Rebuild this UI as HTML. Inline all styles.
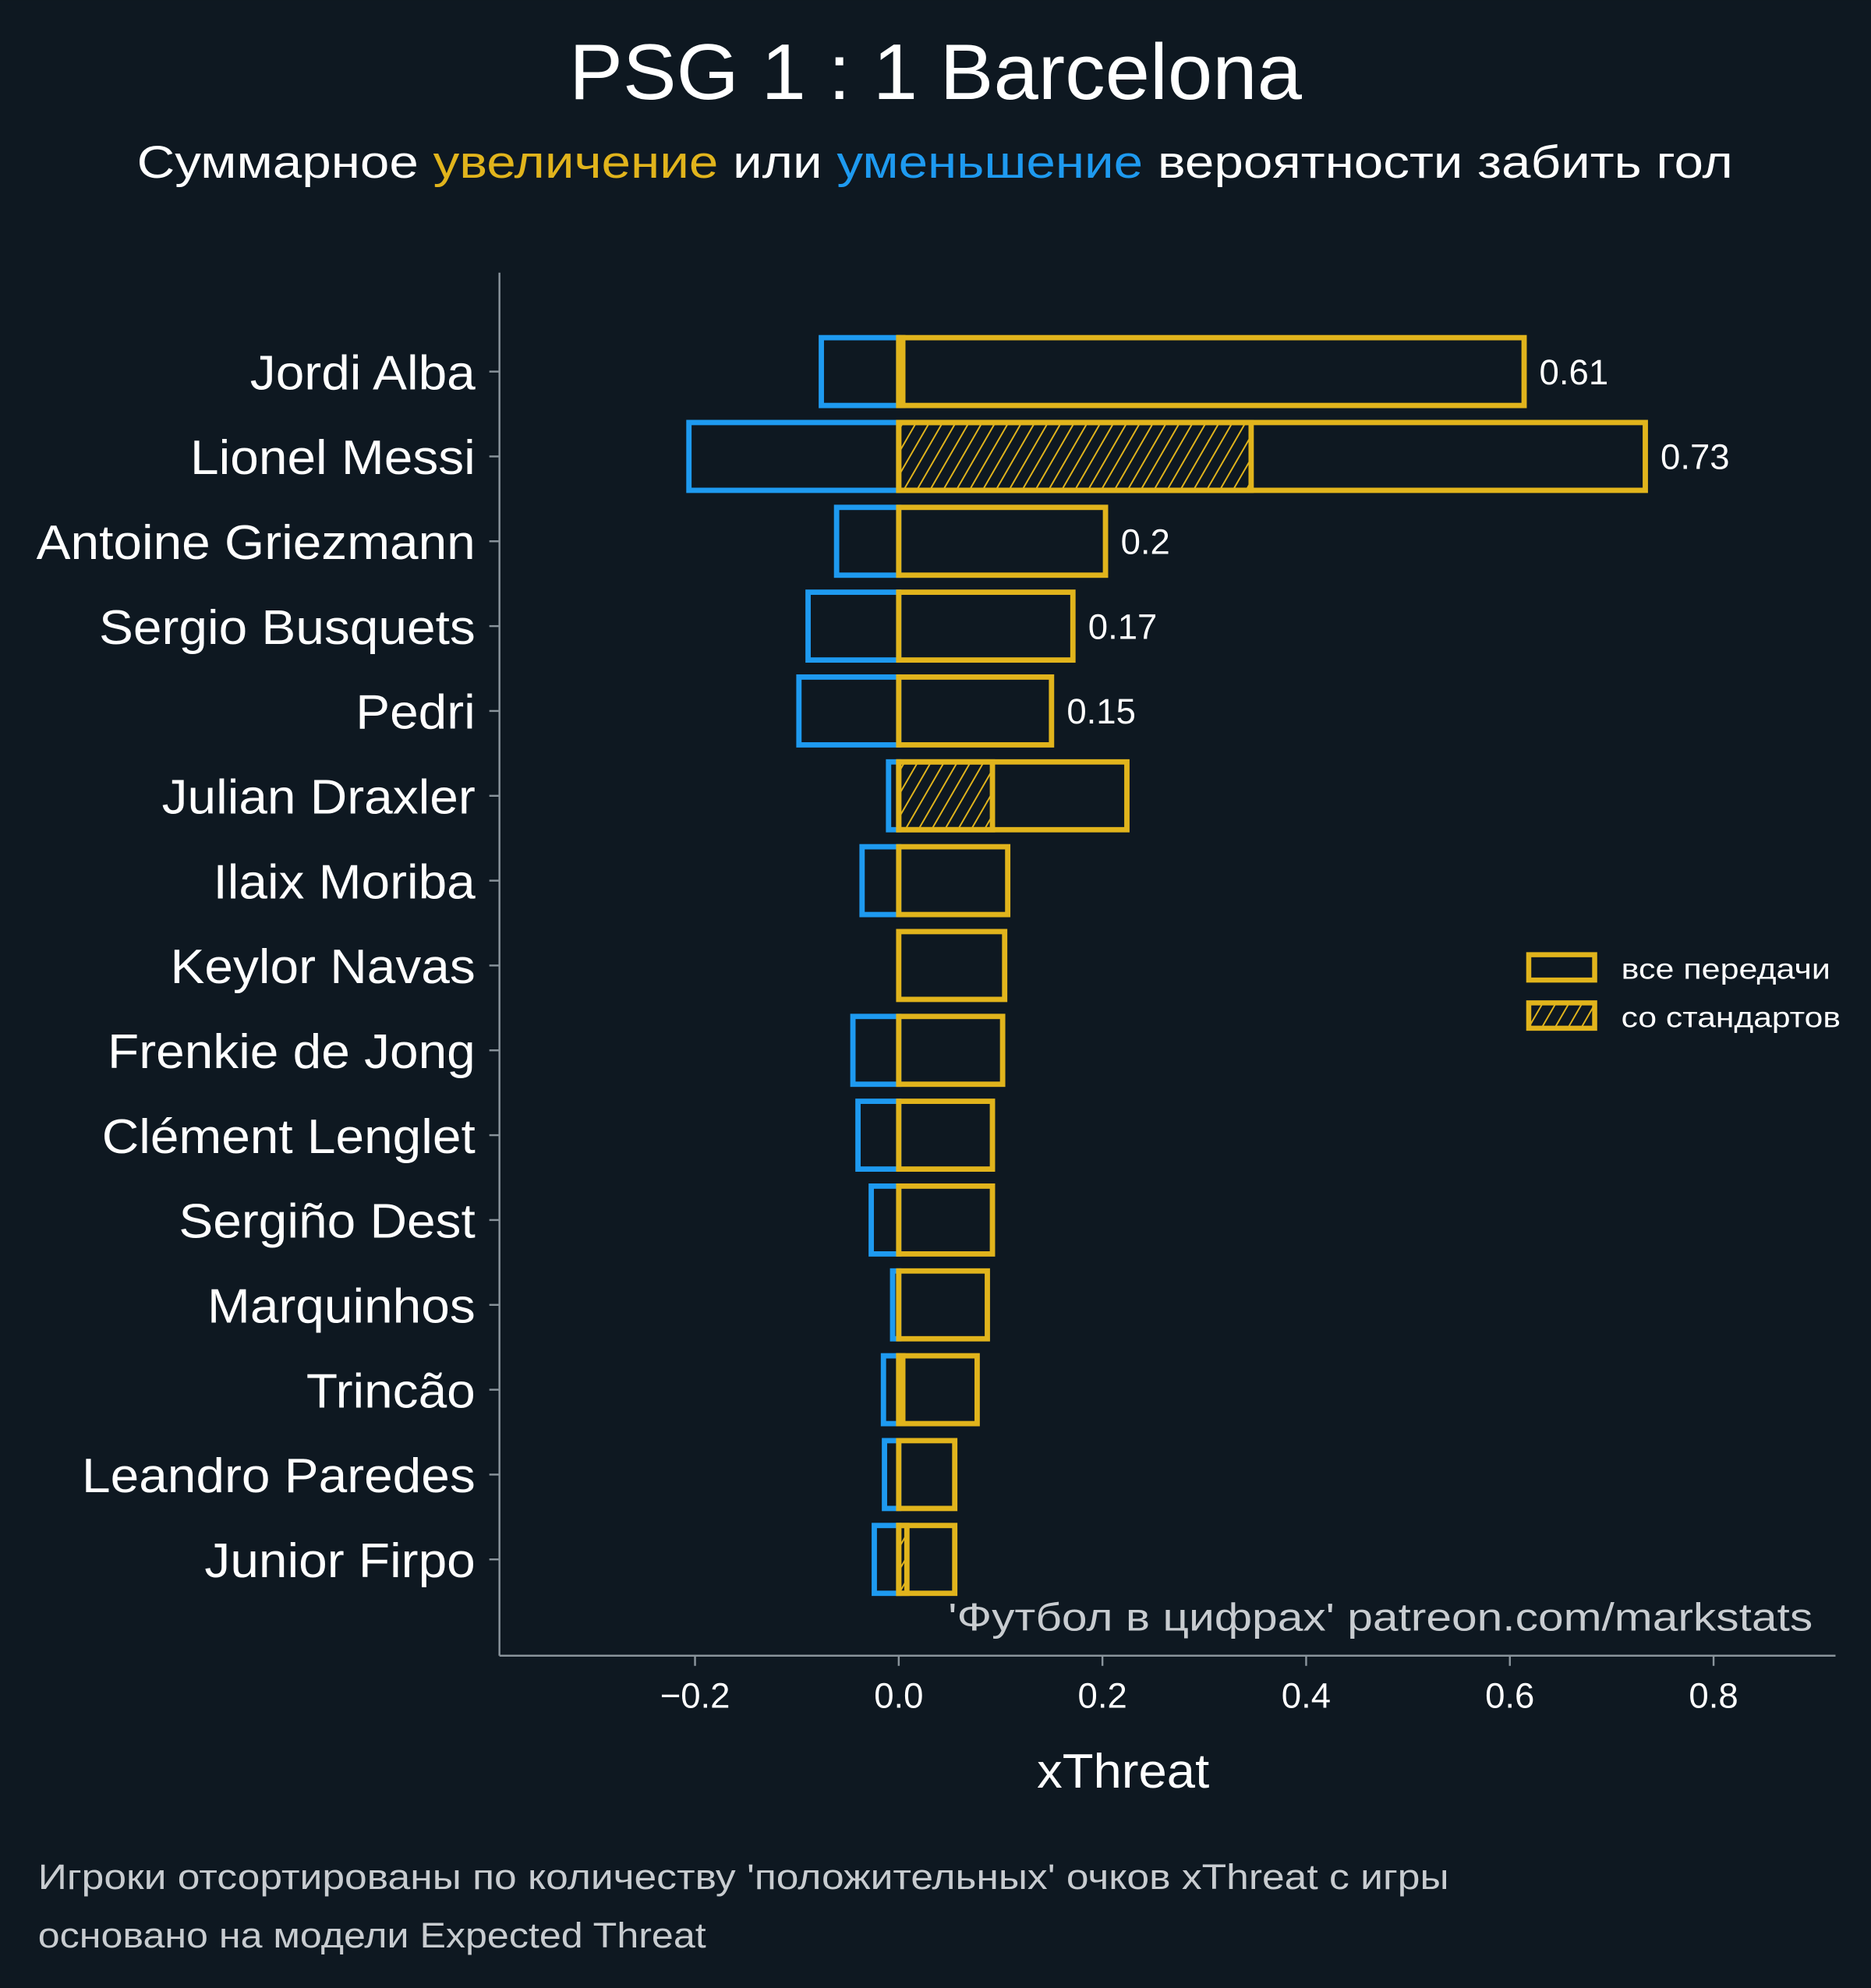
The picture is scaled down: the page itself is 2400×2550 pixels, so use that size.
<!DOCTYPE html>
<html><head><meta charset="utf-8"><style>
html,body{margin:0;padding:0;background:#0e1821;}
svg{display:block;font-family:"Liberation Sans","DejaVu Sans",sans-serif;}
</style></head><body>
<svg id="chart" width="2400" height="2550" viewBox="0 0 1476 1568" xmlns="http://www.w3.org/2000/svg">
<defs>
<pattern id="hatch" patternUnits="userSpaceOnUse" width="9" height="9" patternTransform="rotate(30)">
<rect width="9" height="9" fill="#0e1821"/>
<line x1="0" y1="0" x2="0" y2="9" stroke="#e1b41c" stroke-width="2.4"/>
</pattern>
</defs>
<rect width="1476" height="1568" fill="#0e1821"/>
<text x="449" y="78" textLength="578" lengthAdjust="spacingAndGlyphs" font-size="62" fill="#ffffff">PSG 1 : 1 Barcelona</text>
<text x="108" y="140" textLength="1259" lengthAdjust="spacingAndGlyphs" font-size="36" fill="#ffffff">Суммарное <tspan fill="#e1b41c">увеличение</tspan> или <tspan fill="#1e9af0">уменьшение</tspan> вероятности забить гол</text>
<g id="plot"></g>
<line x1="394" y1="215" x2="394" y2="1306" stroke="#8a949c" stroke-width="1.5"/>
<line x1="394" y1="1306" x2="1448" y2="1306" stroke="#8a949c" stroke-width="1.5"/>
<text x="748" y="1286" textLength="682" lengthAdjust="spacingAndGlyphs" font-size="31" fill="#c8ccd0">'Футбол в цифрах' patreon.com/markstats</text>
<text x="818" y="1410" textLength="136" lengthAdjust="spacingAndGlyphs" font-size="38" fill="#ffffff">xThreat</text>
<g>
<rect x="1206" y="753" width="52" height="20" fill="none" stroke="#e1b41c" stroke-width="4"/>
<text x="1279" y="772" textLength="165" lengthAdjust="spacingAndGlyphs" font-size="23" fill="#ffffff">все передачи</text>
<rect x="1206" y="791" width="52" height="20" fill="url(#hatch)" stroke="#e1b41c" stroke-width="4"/>
<text x="1279" y="810" textLength="173" lengthAdjust="spacingAndGlyphs" font-size="23" fill="#ffffff">со стандартов</text>
</g>
<text x="30" y="1490" textLength="1113" lengthAdjust="spacingAndGlyphs" font-size="28" fill="#c8ccd0">Игроки отсортированы по количеству 'положительных' очков xThreat с игры</text>
<text x="30" y="1536" textLength="527" lengthAdjust="spacingAndGlyphs" font-size="28" fill="#c8ccd0">основано на модели Expected Threat</text>
</svg>
<script>
const players = ["Jordi Alba","Lionel Messi","Antoine Griezmann","Sergio Busquets","Pedri","Julian Draxler","Ilaix Moriba","Keylor Navas","Frenkie de Jong","Clément Lenglet","Sergiño Dest","Marquinhos","Trincão","Leandro Paredes","Junior Firpo"];
const positive = [0.614,0.733,0.203,0.171,0.150,0.224,0.107,0.104,0.102,0.092,0.092,0.087,0.077,0.055,0.055];
const negative = [-0.076,-0.206,-0.061,-0.089,-0.098,-0.010,-0.036,0,-0.045,-0.040,-0.027,-0.006,-0.015,-0.014,-0.024];
const setPiece = [0.004,0.346,0,0,0,0.092,0,0,0,0,0,0,0.004,0,0.008];
const valueLabels = ["0.61","0.73","0.2","0.17","0.15","","","","","","","","","",""];
const xTicks = [-0.2,0,0.2,0.4,0.6,0.8];
const xTickLabels = ["\u22120.2","0.0","0.2","0.4","0.6","0.8"];

const NS="http://www.w3.org/2000/svg";
const g=document.getElementById('plot');
function xs(v){return 709+v*803.5;}
function ys(i){return 293+i*66.93;}
const bh=53.5;
const sw=4.2;
function mk(tag,attrs){const e=document.createElementNS(NS,tag);for(const k in attrs)e.setAttribute(k,attrs[k]);g.appendChild(e);return e;}
players.forEach((p,i)=>{
  const yc=ys(i);
  if(negative[i]<0){
    const r=mk('rect',{x:xs(negative[i]),y:yc-bh/2,width:xs(0)-xs(negative[i]),height:bh,fill:'none',stroke:'#1e9af0','stroke-width':sw});
    
    
  }
  if(setPiece[i]>0){
    const h=mk('rect',{x:xs(0),y:yc-bh/2,width:xs(setPiece[i])-xs(0),height:bh,fill:'url(#hatch)',stroke:'#e1b41c','stroke-width':sw});
    
    
  }
  const r2=mk('rect',{x:xs(0),y:yc-bh/2,width:xs(positive[i])-xs(0),height:bh,fill:'none',stroke:'#e1b41c','stroke-width':sw});
  
  
  if(valueLabels[i]){
    const t=mk('text',{x:xs(positive[i])+12,y:yc+10,'font-size':28,fill:'#ffffff'});
    t.textContent=valueLabels[i];
    
    
  }
  const tk=mk('line',{x1:386,y1:yc,x2:394,y2:yc,stroke:'#8a949c','stroke-width':1.5});
  
  
  const lb=mk('text',{x:375,y:yc+14,'text-anchor':'end','font-size':38,fill:'#ffffff'});
  lb.textContent=p;
  
  
  const w=lb.getComputedTextLength();
  if(w>0){lb.setAttribute('textLength',(w*1.065).toFixed(1));lb.setAttribute('lengthAdjust','spacingAndGlyphs');}
});
xTicks.forEach((v,i)=>{
  const tk=mk('line',{x1:xs(v),y1:1306,x2:xs(v),y2:1314,stroke:'#8a949c','stroke-width':1.5});
  
  
  const t=mk('text',{x:xs(v),y:1347,'text-anchor':'middle','font-size':28,fill:'#ffffff'});
  t.textContent=xTickLabels[i];
  
  
});
</script>
</body></html>
